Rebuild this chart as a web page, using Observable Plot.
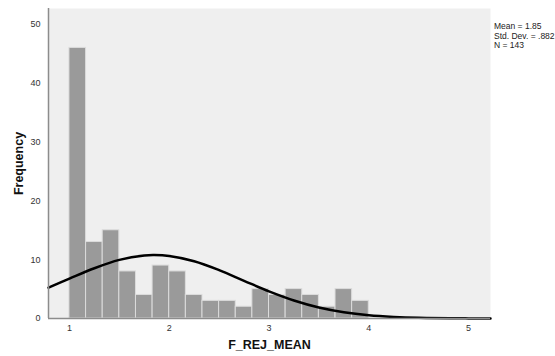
<!DOCTYPE html>
<html>
<head>
<meta charset="utf-8">
<script src="https://cdn.jsdelivr.net/npm/d3@7"></script>
<script src="https://cdn.jsdelivr.net/npm/@observablehq/plot@0.6"></script>
<style>
  html, body { margin: 0; padding: 0; background: #fff; }
  #wrap { position: relative; width: 555px; height: 356px; font-family: "Liberation Sans", Arial, sans-serif; }
  #stats { position: absolute; left: 494px; top: 22px; font-size: 8.5px; line-height: 9.5px; color: #222; white-space: nowrap; }
  svg [aria-label="y-axis label"], svg [aria-label="x-axis label"] { font-size: 12.5px; font-weight: bold; fill: #111; }
</style>
</head>
<body>
<div id="wrap">
  <div id="chart"></div>
  <div id="stats">Mean = 1.85<br>Std. Dev. = .882<br>N = 143</div>
</div>
<script>
// Histogram bins (lower edges) and counts
const binStart = [1, 1.1667, 1.3333, 1.5, 1.6667, 1.8333, 2, 2.1667, 2.3333, 2.5, 2.6667, 2.8333, 3, 3.1667, 3.3333, 3.5, 3.6667, 3.8333];
const binWidth = 1 / 6;
const counts = [46, 13, 15, 8, 4, 9, 8, 4, 3, 3, 2, 5, 4, 5, 4, 2, 5, 3];

// Normal curve
const curveX = [0.79, 1.0, 1.25, 1.5, 1.75, 1.85, 2.0, 2.25, 2.5, 2.75, 3.0, 3.25, 3.5, 3.75, 4.0, 4.25, 4.5, 5.0, 5.22];
const curveY = [5.24, 6.78, 8.55, 9.96, 10.71, 10.78, 10.62, 9.73, 8.22, 6.41, 4.61, 3.06, 1.87, 1.06, 0.55, 0.27, 0.12, 0.02, 0.005];

const xTicks = [1, 2, 3, 4, 5];
const yTicks = [0, 10, 20, 30, 40, 50];
const xDomain = [0.79, 5.22];
const yDomain = [0, 52.7];

const bars = binStart.map((s, i) => ({x1: s, x2: s + binWidth, y: counts[i]}));
const curve = curveX.map((x, i) => ({x, y: curveY[i]}));

const chart = Plot.plot({
  width: 555,
  height: 356,
  marginLeft: 48,
  marginRight: 65,
  marginTop: 8,
  marginBottom: 38,
  style: {fontFamily: "Liberation Sans, Arial, sans-serif", fontSize: "9px", color: "#333", background: "#fff"},
  x: {domain: xDomain},
  y: {domain: yDomain},
  marks: [
    Plot.frame({fill: "#efefef", stroke: null}),
    Plot.rectY(bars, {x1: "x1", x2: "x2", y: "y", fill: "#9a9a9a", stroke: "#dcdcdc", strokeWidth: 1, inset: 0}),
    Plot.line(curve, {x: "x", y: "y", stroke: "#000", strokeWidth: 2.5, curve: "catmull-rom"}),
    Plot.ruleY([0], {stroke: "#8c8c8c", strokeWidth: 1.5}),
    Plot.ruleX([xDomain[0]], {stroke: "#8c8c8c", strokeWidth: 1.5}),
    Plot.axisY({ticks: yTicks, tickFormat: d => String(d), tickSize: 0, tickPadding: 8, label: "Frequency", labelArrow: "none", labelAnchor: "center", labelOffset: 34, fill: "#333"}),
    Plot.axisX({ticks: xTicks, tickFormat: d => String(d), tickSize: 0, tickPadding: 6, label: "F_REJ_MEAN", labelArrow: "none", labelAnchor: "center", labelOffset: 30, fill: "#333"})
  ]
});
document.getElementById("chart").appendChild(chart);
</script>
</body>
</html>
